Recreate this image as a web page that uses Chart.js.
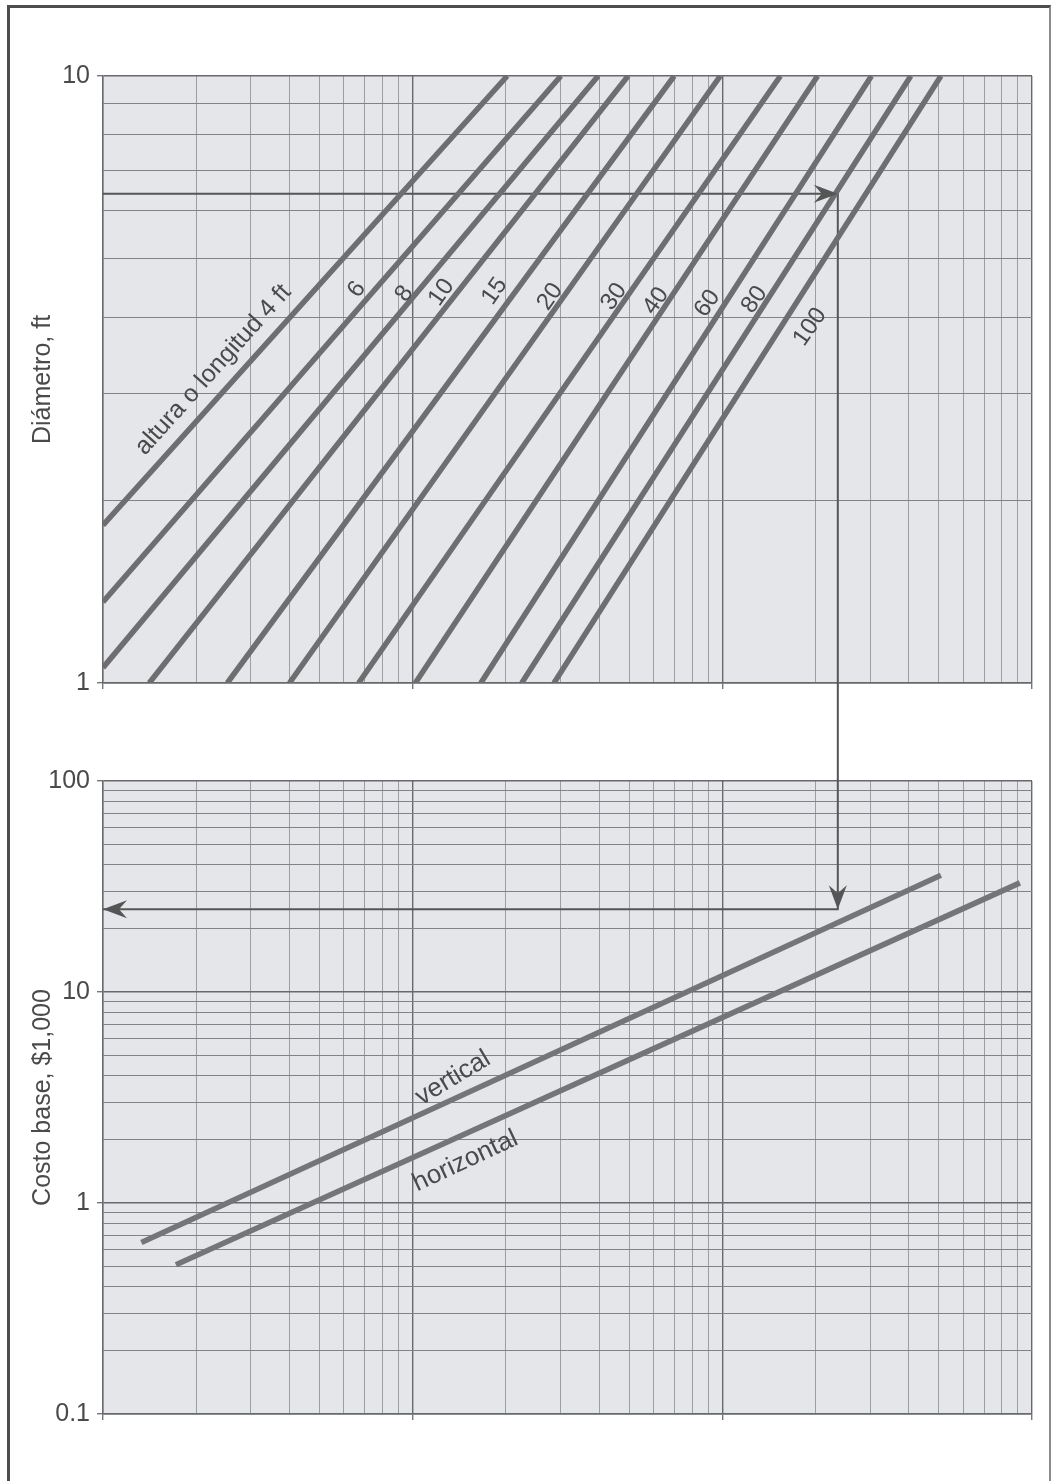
<!DOCTYPE html>
<html>
<head>
<meta charset="utf-8">
<script src="https://cdn.jsdelivr.net/npm/chart.js@4.4.1/dist/chart.umd.min.js"></script>
<style>
  html, body { margin: 0; padding: 0; background: #fff; }
  #page { position: relative; width: 1053px; height: 1481px; overflow: hidden; }
  #frame { position: absolute; left: 7px; top: 5px; width: 1039px; height: 1500px;
           border-left: 3px solid #4d4d4d; border-top: 3px solid #4d4d4d; border-right: 2px solid #8c8c8c; }
  canvas { position: absolute; left: 0; }
  #topChart { top: 0; }
  #bottomChart { top: 732px; }
</style>
</head>
<body>
<div id="page">
  <div id="frame"></div>
  <canvas id="topChart" width="1053" height="732"></canvas>
  <canvas id="bottomChart" width="1053" height="749"></canvas>
</div>
<script>
// shared x axis (no labels in the original)
const X_MIN = 1, X_MAX = 1000;

// top panel: diameter, ft  -- one line per height / length
const LENGTHS = [4, 6, 8, 10, 15, 20, 30, 40, 60, 80, 100];
const LEN_X_START = [1, 1, 1, 1.41, 2.52, 4.0, 6.69, 10.2, 16.6, 22.5, 28.6];
const LEN_D_START = [1.82, 1.36, 1.06, 1, 1, 1, 1, 1, 1, 1, 1];
const LEN_X_END = [20.2, 30.1, 39.7, 49.6, 69.9, 98.5, 154, 203, 303, 406, 508];
const LEN_D_END = [10, 10, 10, 10, 10, 10, 10, 10, 10, 10, 10];
const DIAM_MIN = 1, DIAM_MAX = 10;
const DIAM_LABELS = [1, 10];

// bottom panel: base cost, $1,000
const VESSEL_TYPES = ['vertical', 'horizontal'];
const COST_X_START = [1.33, 1.72];
const COST_Y_START = [0.65, 0.51];
const COST_X_END = [508, 914];
const COST_Y_END = [35.8, 32.9];
const COST_MIN = 0.1, COST_MAX = 100;
const COST_LABELS = [0.1, 1, 10, 100];

// worked example (arrows)
const EX_X = 236;
const EX_DIAM = 6.4;
const EX_COST = 24.7;

// where the curve labels sit, in data units
const LEN_LABEL_X = [2.27, 6.6, 9.4, 12.4, 18.4, 27.8, 44.7, 61.1, 89.5, 127, 192];
const LEN_LABEL_D = [3.28, 4.45, 4.38, 4.40, 4.42, 4.33, 4.33, 4.26, 4.22, 4.28, 3.86];
const TYPE_LABEL_X = [13.5, 14.8];
const TYPE_LABEL_Y = [3.91, 1.58];

const FONT = "'Liberation Sans', Arial, sans-serif";
const TEXT = '#4a4a4a';

// grid lines at 1..9 of every decade
function gridTicks(min, max) {
  const out = [];
  for (let e = Math.round(Math.log10(min)); e < Math.round(Math.log10(max)); e++) {
    for (let s = 1; s <= 9; s++) out.push({ value: Number((s * Math.pow(10, e)).toPrecision(3)), major: s === 1 });
  }
  out.push({ value: max, major: true });
  return out;
}

function drawHead(ctx, px, py, ang) {
  ctx.save();
  ctx.translate(px, py);
  ctx.rotate(ang);
  ctx.beginPath();
  ctx.moveTo(0, 0);
  ctx.lineTo(-24, -9);
  ctx.lineTo(-16, 0);
  ctx.lineTo(-24, 9);
  ctx.closePath();
  ctx.fillStyle = '#555';
  ctx.fill();
  ctx.restore();
}

const decor = {
  id: 'decor',
  beforeDraw(chart) {
    const { ctx, chartArea: a } = chart;
    ctx.save();
    ctx.fillStyle = '#e4e6ea';
    ctx.fillRect(a.left, a.top, a.width, a.height);
    ctx.restore();
  },
  afterDatasetsDraw(chart, args, opts) {
    const { ctx, chartArea: a, scales: { x, y } } = chart;
    // continuation of the example line through the gap between panels
    const px = x.getPixelForValue(EX_X);
    ctx.save();
    ctx.strokeStyle = '#555';
    ctx.lineWidth = 2;
    ctx.beginPath();
    if (opts.link === 'down') { ctx.moveTo(px, a.bottom); ctx.lineTo(px, chart.height); }
    else { ctx.moveTo(px, 0); ctx.lineTo(px, a.top); }
    ctx.stroke();
    ctx.restore();

    opts.heads.forEach(h => drawHead(ctx, x.getPixelForValue(h.x), y.getPixelForValue(h.y), h.dir));

    opts.labels.forEach(l => {
      ctx.save();
      ctx.translate(x.getPixelForValue(l.x), y.getPixelForValue(l.y));
      ctx.rotate(l.angle * Math.PI / 180);
      ctx.font = l.size + 'px ' + FONT;
      ctx.fillStyle = TEXT;
      ctx.textAlign = 'center';
      ctx.textBaseline = 'middle';
      ctx.fillText(l.text, 0, 0);
      ctx.restore();
    });
  }
};

const isMajor = c => c.tick && c.tick.major;

function xAxis(height) {
  return {
    type: 'logarithmic', position: 'bottom', min: X_MIN, max: X_MAX,
    afterBuildTicks: s => { s.ticks = gridTicks(X_MIN, X_MAX); },
    afterFit: s => { s.height = height; },
    ticks: { display: false },
    grid: {
      color: c => isMajor(c) ? '#66696d' : '#9b9ea2',
      lineWidth: c => isMajor(c) ? 1.4 : 1,
      tickLength: 6,
      tickColor: c => isMajor(c) ? '#777' : 'rgba(0,0,0,0)'
    },
    border: { color: '#66696d', width: 1.4 }
  };
}

function yAxis(min, max, labels, title) {
  return {
    type: 'logarithmic', position: 'left', min: min, max: max,
    afterBuildTicks: s => { s.ticks = gridTicks(min, max); },
    afterFit: s => { s.width = 103; },
    ticks: {
      autoSkip: false, padding: 7, color: TEXT,
      font: { family: FONT, size: 25 },
      callback: v => labels.some(l => Math.abs(l - v) < l * 1e-6) ? String(v) : ''
    },
    grid: {
      color: c => isMajor(c) ? '#66696d' : '#808387',
      lineWidth: c => isMajor(c) ? 1.4 : 1,
      tickLength: 6,
      tickColor: c => isMajor(c) ? '#777' : 'rgba(0,0,0,0)'
    },
    border: { color: '#66696d', width: 1.4 },
    title: {
      display: true, text: title, color: TEXT,
      font: { family: FONT, size: 25 },
      padding: { top: 28, bottom: 0 }
    }
  };
}

function panel(id, datasets, scales, padTop, decorOpts) {
  return new Chart(document.getElementById(id), {
    type: 'scatter',
    data: { datasets },
    options: {
      responsive: false, animation: false, devicePixelRatio: 1,
      layout: { padding: { left: 0, top: padTop, right: 21, bottom: 0 } },
      scales,
      plugins: { legend: { display: false }, tooltip: { enabled: false }, decor: decorOpts }
    },
    plugins: [decor]
  });
}

// ---- top: diameter vs x
const lenSets = LENGTHS.map((L, i) => ({
  label: L + ' ft',
  data: [{ x: LEN_X_START[i], y: LEN_D_START[i] }, { x: LEN_X_END[i], y: LEN_D_END[i] }],
  showLine: true, borderColor: '#6e6e70', borderWidth: 5.5, pointRadius: 0, clip: 0, order: 1
}));
lenSets.push({
  label: 'example',
  data: [{ x: X_MIN, y: EX_DIAM }, { x: EX_X, y: EX_DIAM }, { x: EX_X, y: DIAM_MIN }],
  showLine: true, borderColor: '#555', borderWidth: 2, pointRadius: 0, clip: 0, order: 2
});

panel('topChart', lenSets,
  { x: xAxis(49), y: yAxis(DIAM_MIN, DIAM_MAX, DIAM_LABELS, 'Diámetro, ft') }, 76,
  {
    link: 'down',
    heads: [{ x: EX_X, y: EX_DIAM, dir: 0 }],
    labels: LENGTHS.map((L, i) => ({
      text: i === 0 ? 'altura o longitud 4 ft' : String(L),
      x: LEN_LABEL_X[i], y: LEN_LABEL_D[i],
      angle: i === 0 ? -48 : -55, size: i === 0 ? 25 : 24
    }))
  });

// ---- bottom: base cost vs x
const costSets = VESSEL_TYPES.map((t, i) => ({
  label: t,
  data: [{ x: COST_X_START[i], y: COST_Y_START[i] }, { x: COST_X_END[i], y: COST_Y_END[i] }],
  showLine: true, borderColor: '#757577', borderWidth: 5.5, pointRadius: 0, clip: 0, order: 1
}));
costSets.push({
  label: 'example',
  data: [{ x: EX_X, y: COST_MAX }, { x: EX_X, y: EX_COST }, { x: X_MIN, y: EX_COST }],
  showLine: true, borderColor: '#555', borderWidth: 2, pointRadius: 0, clip: 0, order: 2
});

panel('bottomChart', costSets,
  { x: xAxis(67), y: yAxis(COST_MIN, COST_MAX, COST_LABELS, 'Costo base, $1,000') }, 49,
  {
    link: 'up',
    heads: [{ x: EX_X, y: EX_COST, dir: Math.PI / 2 }, { x: X_MIN, y: EX_COST, dir: Math.PI }],
    labels: VESSEL_TYPES.map((t, i) => ({
      text: t, x: TYPE_LABEL_X[i], y: TYPE_LABEL_Y[i], angle: i === 0 ? -31 : -25, size: 26
    }))
  });
</script>
</body>
</html>
